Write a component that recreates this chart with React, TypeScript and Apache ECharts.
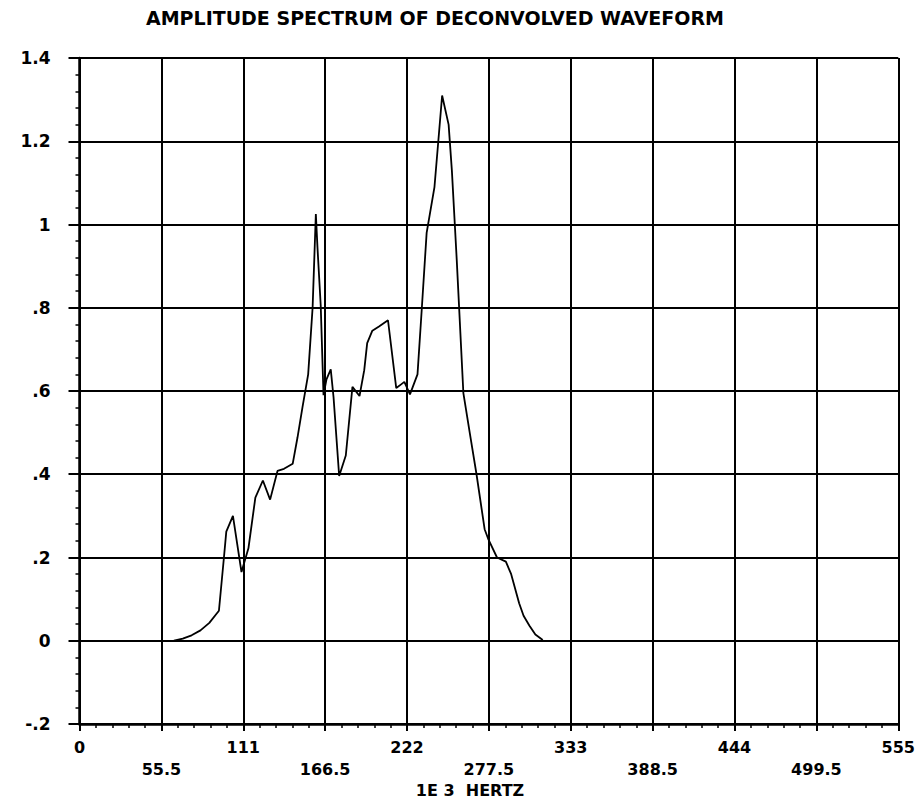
import React, { useEffect, useRef } from "react";
import * as echarts from "echarts";

const titleText = "AMPLITUDE SPECTRUM OF DECONVOLVED WAVEFORM";
const xAxisTitle = "1E 3  HERTZ";

// frequency (1E3 Hz) and amplitude
const freqs = [
  64, 70, 76, 82, 88, 94.5, 97.9, 99.5, 104, 109.8, 114.5, 119.2, 124.3, 129.2,
  134.2, 138.6, 144.5, 147.7, 151.1, 155, 158, 160.2, 161.3, 163.5, 165.4, 167.4,
  170.3, 172.2, 176, 180.5, 185, 189.8, 193, 195, 198.5, 203, 209.1, 214.7, 218,
  220.2, 224, 229.1, 232, 235.3, 240.6, 245.8, 250.2, 252.4, 255.7, 260.2, 264.5,
  269.1, 274.6, 277, 283, 289, 292.6, 298, 301, 305, 309, 314,
];
const amps = [
  0, 0.005, 0.013, 0.025, 0.043, 0.072, 0.2, 0.262, 0.3, 0.165, 0.222, 0.344,
  0.385, 0.339, 0.408, 0.413, 0.425, 0.487, 0.56, 0.64, 0.8, 1.025, 0.945, 0.806,
  0.59, 0.628, 0.652, 0.585, 0.396, 0.445, 0.61, 0.588, 0.65, 0.715, 0.745, 0.755,
  0.77, 0.607, 0.616, 0.622, 0.592, 0.64, 0.797, 0.98, 1.09, 1.31, 1.24, 1.13,
  0.915, 0.595, 0.5, 0.4, 0.268, 0.245, 0.2, 0.19, 0.16, 0.09, 0.06, 0.036, 0.015,
  0.002,
];

const xTickLabels = ["0", "55.5", "111", "166.5", "222", "277.5", "333", "388.5", "444", "499.5", "555"];
const yTickLabels = ["-.2", "0", ".2", ".4", ".6", ".8", "1", "1.2", "1.4"];

const FONT = "DejaVu Sans";

export default function App() {
  const ref = useRef<HTMLDivElement>(null);

  useEffect(() => {
    if (!ref.current) return;
    const chart = echarts.init(ref.current, undefined, { renderer: "svg" });
    const data = freqs.map((f, i) => [f, amps[i]]);
    chart.setOption({
      animation: false,
      backgroundColor: "#ffffff",
      grid: { left: 79.5, right: 16, top: 58, bottom: 86, containLabel: false },
      graphic: [
        {
          type: "text",
          style: {
            text: titleText,
            x: 435,
            y: 18,
            align: "center",
            verticalAlign: "middle",
            fontFamily: FONT,
            fontWeight: "bold",
            fontSize: 19,
            fill: "#000",
          },
        },
        {
          type: "text",
          style: {
            text: xAxisTitle,
            x: 470,
            y: 790,
            align: "center",
            verticalAlign: "middle",
            fontFamily: FONT,
            fontWeight: "bold",
            fontSize: 16,
            fill: "#000",
          },
        },
      ],
      xAxis: {
        type: "value",
        min: 0,
        max: 555,
        interval: 55.5,
        axisLine: { show: true, onZero: false, lineStyle: { color: "#000", width: 2.5 } },
        axisTick: { show: true, length: 7, lineStyle: { color: "#000", width: 2 } },
        minorTick: { show: true, splitNumber: 5, length: 4, lineStyle: { color: "#000", width: 1.5 } },
        splitLine: { show: true, lineStyle: { color: "#000", width: 2 } },
        axisLabel: {
          margin: 12,
          color: "#000",
          fontFamily: FONT,
          fontWeight: "bold",
          fontSize: 16,
          lineHeight: 22,
          formatter: (_v: number, i: number) => {
            const s = xTickLabels[i] ?? "";
            return i % 2 === 0 ? s : "\n" + s;
          },
        },
      },
      yAxis: {
        type: "value",
        min: -0.2,
        max: 1.4,
        interval: 0.2,
        axisLine: { show: true, lineStyle: { color: "#000", width: 2.5 } },
        axisTick: { show: true, length: 11, lineStyle: { color: "#000", width: 2 } },
        minorTick: { show: true, splitNumber: 5, length: 4, lineStyle: { color: "#000", width: 1.5 } },
        splitLine: { show: true, lineStyle: { color: "#000", width: 2 } },
        axisLabel: {
          margin: 29,
          color: "#000",
          fontFamily: FONT,
          fontWeight: "bold",
          fontSize: 17,
          formatter: (_v: number, i: number) => yTickLabels[i] ?? "",
        },
      },
      series: [
        {
          type: "line",
          data,
          showSymbol: false,
          symbol: "none",
          lineStyle: { color: "#000", width: 1.8 },
          z: 5,
        },
      ],
    });
    return () => chart.dispose();
  }, []);

  return (
    <div
      ref={ref}
      style={{ position: "fixed", left: 0, top: 0, width: 918, height: 810, background: "#fff" }}
    />
  );
}
